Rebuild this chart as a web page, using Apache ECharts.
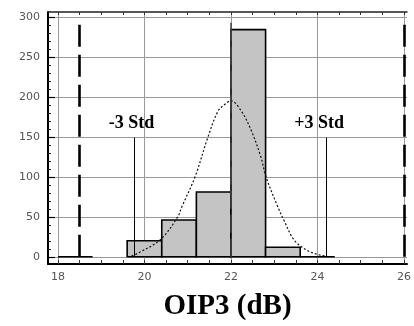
<!DOCTYPE html>
<html>
<head>
<meta charset="utf-8">
<script src="https://cdn.jsdelivr.net/npm/echarts@6/dist/echarts.min.js"></script>
<style>
html,body{margin:0;padding:0;background:#fff;}
#chart{width:414px;height:326px;}
</style>
</head>
<body>
<div id="chart"></div>
<script>
// ---- data ----
const binLeft  = [18.0, 19.6, 20.4, 21.2, 22.0, 22.8, 23.6];
const binRight = [18.8, 20.4, 21.2, 22.0, 22.8, 23.6, 24.4];
const counts   = [0, 20, 46, 81, 284, 12, 0];

const curveX = [19.70, 19.87, 20.38, 20.77, 20.86, 21.17, 21.47, 21.70, 21.89, 22.00, 22.24, 22.46, 22.69, 22.81, 23.07, 23.23, 23.46, 23.76, 24.06, 24.20];
const curveY = [1, 5, 22, 50, 62, 100, 150, 182, 192, 195, 182, 159, 125, 100, 64, 45, 21, 8, 2, 1];

const xTickLabels = [18, 20, 22, 24, 26];
const xMinorTicks = [18, 18.5, 19, 19.5, 20, 20.5, 21, 21.5, 22, 22.5, 23, 23.5, 24, 24.5, 25, 25.5, 26];
const yTickLabels = [0, 50, 100, 150, 200, 250, 300];
const yMinorTicks = [0,10,20,30,40,50,60,70,80,90,100,110,120,130,140,150,160,170,180,190,200,210,220,230,240,250,260,270,280,290,300];

const specLimits = [18.5, 26];
const meanValue = 22;
const stdLines = [19.77, 24.2];
const stdLabels = ['-3 Std', '+3 Std'];
const stdLineTop = 149;
const specLineTop = 294;
const axisTitle = 'OIP3 (dB)';

// ---- chart ----
const X_MIN = 17.77, X_MAX = 26.07, Y_MIN = -9, Y_MAX = 306;
const chart = echarts.init(document.getElementById('chart'), null, {renderer: 'canvas'});

const histData = binLeft.map((l, i) => [l, binRight[i], counts[i]]);
const curveData = curveX.map((x, i) => [x, curveY[i]]);

const labelFont = {fontFamily: 'DejaVu Sans', fontSize: 11, color: '#555'};

const markData = [];
specLimits.forEach(v => {
  markData.push([
    {coord: [v, 0], lineStyle: {color: '#000', width: 2.6, type: [22, 8]}},
    {coord: [v, specLineTop]}
  ]);
});
markData.push([
  {coord: [meanValue, 0], lineStyle: {color: '#444', width: 1.5, type: [18, 6]}},
  {coord: [meanValue, specLineTop]}
]);
stdLines.forEach((v, i) => {
  markData.push([
    {coord: [v, 0], lineStyle: {color: '#000', width: 1, type: 'solid'},
     label: {show: true, position: 'end', formatter: stdLabels[i], distance: 5,
             offset: [i === 0 ? -3 : -7, 0],
             fontFamily: 'Liberation Serif', fontWeight: 'bold', fontSize: 18, color: '#000'}},
    {coord: [v, stdLineTop]}
  ]);
});

const option = {
  animation: false,
  backgroundColor: '#fff',
  grid: {left: 48, right: 3, top: 12, bottom: 62},
  xAxis: [
    {
      type: 'value', position: 'bottom', min: X_MIN, max: X_MAX,
      axisLine: {onZero: false, lineStyle: {color: '#000', width: 2}},
      axisTick: {inside: true, length: 4, customValues: xMinorTicks, lineStyle: {color: '#333'}},
      axisLabel: {customValues: xTickLabels, margin: 8, ...labelFont},
      splitLine: {show: false},
      name: axisTitle, nameLocation: 'middle', nameGap: 28,
      nameTextStyle: {fontFamily: 'Liberation Serif', fontWeight: 'bold', fontSize: 29, color: '#000'}
    },
    {
      type: 'value', position: 'top', min: X_MIN, max: X_MAX,
      axisLine: {onZero: false, lineStyle: {color: '#222', width: 1.5}},
      axisTick: {inside: true, length: 3, customValues: xMinorTicks, lineStyle: {color: '#333'}},
      axisLabel: {show: false},
      splitLine: {show: false}
    },
    {
      type: 'value', position: 'bottom', min: X_MIN, max: X_MAX,
      axisLine: {show: false, onZero: false},
      axisTick: {show: false, customValues: xTickLabels},
      axisLabel: {show: false},
      splitLine: {show: true, lineStyle: {color: '#999', width: 1}}
    }
  ],
  yAxis: [
    {
      type: 'value', position: 'left', min: Y_MIN, max: Y_MAX,
      axisLine: {show: true, onZero: false, lineStyle: {color: '#000', width: 2}},
      axisTick: {show: true, inside: true, length: 3, customValues: yMinorTicks, lineStyle: {color: '#222'}},
      axisLabel: {customValues: yTickLabels, margin: 8, ...labelFont},
      splitLine: {show: false}
    },
    {
      type: 'value', position: 'left', min: Y_MIN, max: Y_MAX,
      axisLine: {show: false, onZero: false},
      axisTick: {show: true, inside: true, length: 7, customValues: yTickLabels, lineStyle: {color: '#000', width: 1.2}},
      axisLabel: {show: false},
      splitLine: {show: true, lineStyle: {color: '#999', width: 1}}
    }
  ],
  series: [
    {
      type: 'custom',
      xAxisIndex: 0, yAxisIndex: 0,
      z: 2,
      data: histData,
      renderItem: function (params, api) {
        const p0 = api.coord([api.value(0), api.value(2)]);
        const p1 = api.coord([api.value(1), 0]);
        return {
          type: 'rect',
          shape: {x: p0[0], y: p0[1], width: p1[0] - p0[0], height: p1[1] - p0[1]},
          style: {fill: '#c4c4c4', stroke: '#000', lineWidth: 1.6}
        };
      }
    },
    {
      type: 'line',
      xAxisIndex: 0, yAxisIndex: 0,
      z: 4,
      data: curveData,
      smooth: 0.35,
      symbol: 'none',
      lineStyle: {color: '#111', width: 1.2, type: [2, 2]},
      markLine: {
        silent: true,
        symbol: ['none', 'none'],
        animation: false,
        label: {show: false},
        data: markData
      }
    }
  ]
};
chart.setOption(option);
</script>
</body>
</html>
